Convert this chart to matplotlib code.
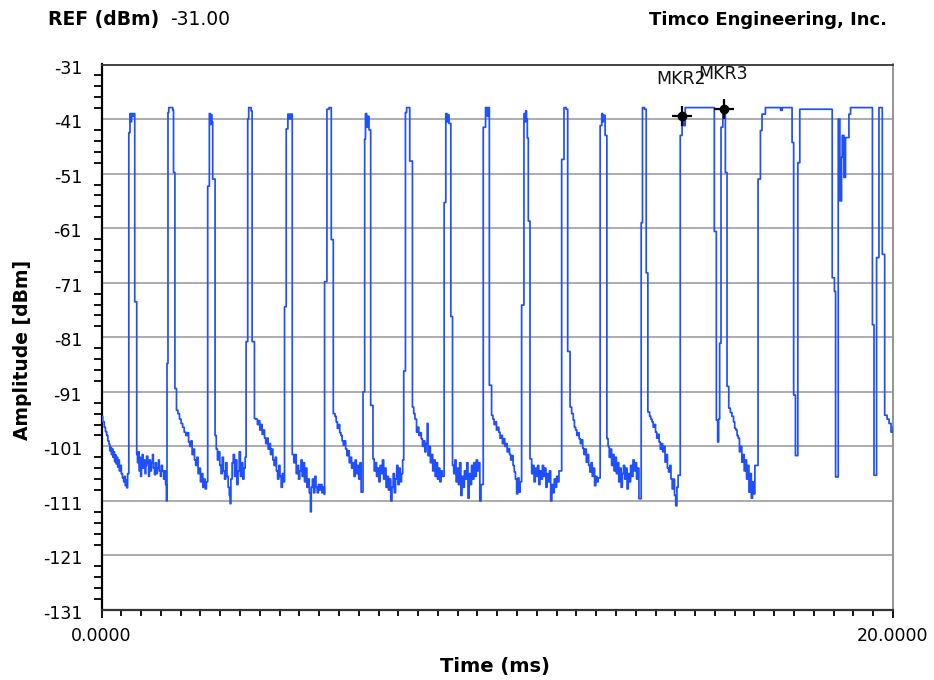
import matplotlib
matplotlib.use('Agg')
import matplotlib.pyplot as plt
from matplotlib.ticker import FixedLocator, FixedFormatter
from matplotlib.transforms import ScaledTranslation

# ---------------- data ----------------
trace_time_ms = [
    0.00, 0.03, 0.07, 0.10, 0.13, 0.16, 0.19, 0.21, 0.23, 0.25, 0.27, 0.29, 0.31, 0.33, 0.35, 0.37, 0.39, 0.41, 0.43, 0.45, 0.48, 0.50, 0.53, 0.56, 0.58, 0.60, 0.62, 0.64, 0.66,
    0.69, 0.72, 0.74, 0.76, 0.79, 0.82, 0.84, 0.89,
    0.91, 0.93, 0.95, 0.97, 0.99, 1.01, 1.03, 1.05, 1.08, 1.10, 1.12, 1.14, 1.17, 1.19, 1.21, 1.24, 1.26, 1.29, 1.31, 1.34, 1.36, 1.39, 1.41, 1.44, 1.46, 1.49, 1.51, 1.54, 1.57, 1.59, 1.62, 1.64,
    1.655, 1.68, 1.70, 1.80, 1.82, 1.855, 1.895,
    1.93, 1.97, 2.01, 2.05, 2.09, 2.13, 2.17, 2.20, 2.23, 2.26, 2.29, 2.32, 2.35, 2.38, 2.41, 2.44, 2.47, 2.50, 2.53, 2.56, 2.59, 2.62, 2.65,
    2.684, 2.725, 2.75, 2.77, 2.79, 2.81, 2.87,
    2.90, 2.93, 2.96, 2.99, 3.02, 3.05, 3.08, 3.11, 3.14, 3.17, 3.20, 3.23, 3.25, 3.27, 3.30, 3.33, 3.36, 3.39, 3.42, 3.45, 3.48, 3.51, 3.54, 3.57, 3.60, 3.63,
    3.654, 3.695, 3.72, 3.78, 3.806, 3.865,
    3.90, 3.94, 3.97, 4.00, 4.03, 4.06, 4.09, 4.12, 4.15, 4.18, 4.21, 4.24, 4.27, 4.30, 4.33, 4.36, 4.39, 4.42, 4.45, 4.48, 4.51, 4.54, 4.57, 4.60,
    4.625, 4.667, 4.71, 4.75, 4.78, 4.82,
    4.86, 4.89, 4.92, 4.95, 4.98, 5.01, 5.04, 5.07, 5.10, 5.13, 5.16, 5.19, 5.22, 5.25, 5.28, 5.30, 5.33, 5.36, 5.39, 5.42, 5.45, 5.48, 5.51, 5.54, 5.57, 5.60, 5.63,
    5.637, 5.696, 5.75, 5.806, 5.857,
    5.90, 5.93, 5.96, 5.99, 6.02, 6.05, 6.08, 6.11, 6.14, 6.17, 6.20, 6.23, 6.26, 6.29, 6.32, 6.35, 6.38, 6.41, 6.44, 6.47, 6.50, 6.53, 6.56,
    6.608, 6.65, 6.67, 6.70, 6.73, 6.76, 6.802, 6.86,
    6.89, 6.92, 6.95, 6.98, 7.01, 7.04, 7.07, 7.10, 7.13, 7.16, 7.19, 7.22, 7.25, 7.28, 7.31, 7.34, 7.37, 7.40, 7.43, 7.46, 7.49, 7.52, 7.55, 7.58, 7.61,
    7.637, 7.68, 7.71, 7.789, 7.857,
    7.89, 7.92, 7.96, 7.99, 8.02, 8.05, 8.08, 8.11, 8.14, 8.17, 8.20, 8.23, 8.25, 8.28, 8.31, 8.34, 8.37, 8.40, 8.43, 8.46, 8.49, 8.52, 8.55, 8.58, 8.61,
    8.658, 8.70, 8.73, 8.76, 8.78, 8.827, 8.87,
    8.90, 8.93, 8.96, 8.99, 9.02, 9.05, 9.08, 9.11, 9.14, 9.17, 9.20, 9.23, 9.26, 9.29, 9.32, 9.35, 9.38, 9.41, 9.44, 9.47, 9.50, 9.53, 9.56, 9.59,
    9.646, 9.705, 9.75, 9.77, 9.80, 9.857,
    9.89, 9.92, 9.95, 9.98, 10.01, 10.04, 10.07, 10.10, 10.13, 10.16, 10.19, 10.22, 10.25, 10.28, 10.31, 10.34, 10.37, 10.40, 10.43, 10.46, 10.49, 10.52, 10.55, 10.58,
    10.616, 10.675, 10.70, 10.72, 10.74, 10.76, 10.785, 10.827,
    10.87, 10.90, 10.93, 10.96, 10.99, 11.02, 11.05, 11.08, 11.11, 11.14, 11.17, 11.20, 11.23, 11.26, 11.29, 11.32, 11.35, 11.38, 11.41, 11.44, 11.47, 11.50, 11.53, 11.56,
    11.628, 11.687, 11.74, 11.78, 11.84,
    11.88, 11.92, 11.95, 11.98, 12.01, 12.04, 12.07, 12.10, 12.13, 12.16, 12.19, 12.22, 12.25, 12.28, 12.31, 12.34, 12.37, 12.40, 12.43, 12.46, 12.49, 12.52, 12.55,
    12.60, 12.64, 12.66, 12.68, 12.725, 12.77,
    12.80, 12.83, 12.86, 12.89, 12.92, 12.95, 12.98, 13.01, 13.04, 13.07, 13.10, 13.13, 13.16, 13.19, 13.22, 13.25, 13.28, 13.31, 13.34, 13.37, 13.40, 13.43, 13.46, 13.49, 13.52, 13.55, 13.58,
    13.637, 13.67, 13.72, 13.764, 13.806,
    13.85, 13.88, 13.91, 13.94, 13.97, 14.00, 14.03, 14.06, 14.09, 14.12, 14.15, 14.18, 14.21, 14.24, 14.27, 14.30, 14.33, 14.36, 14.39, 14.42, 14.45, 14.48, 14.51, 14.54, 14.57,
    14.624, 14.67, 14.71, 14.75, 15.485, 15.536, 15.57, 15.595, 15.62, 15.654, 15.70, 15.764, 15.806,
    15.85, 15.89, 15.93, 15.97, 16.00, 16.03, 16.06, 16.09, 16.12, 16.15, 16.18, 16.21, 16.24, 16.27, 16.30, 16.33, 16.36, 16.39, 16.42, 16.45, 16.48, 16.51,
    16.59, 16.65, 16.69, 16.776, 17.16, 17.20, 17.45, 17.49, 17.535, 17.595, 17.645, 18.464, 18.52, 18.55, 18.616, 18.658, 18.70, 18.717, 18.76, 18.80, 18.886, 18.928, 19.48, 19.52, 19.585, 19.645, 19.73, 19.79, 19.85, 19.90, 19.95, 20.0,
]
trace_amp_dbm = [
    -95.5, -96.5, -97.5, -98.3, -99.0, -100.0, -100.6, -101.8, -101.2, -102.5, -101.5, -103.0, -102.0, -103.8, -102.6, -104.2, -103.0, -104.8, -103.5, -105.5, -104.5, -106.0, -106.8, -107.5, -106.5, -108.2, -107.2, -108.6, -106.0,
    -43.5, -40.0, -41.5, -40.0, -40.5, -40.0, -74.5, -102.5,
    -104.0, -102.0, -105.5, -103.0, -106.5, -104.0, -102.5, -105.0, -103.5, -106.0, -104.5, -102.8, -104.0, -106.5, -103.5, -105.5, -104.0, -102.5, -105.0, -106.2, -104.0, -106.0, -105.0, -103.5, -105.5, -106.5, -104.5, -105.5, -107.0, -105.5, -108.0, -111.0,
    -85.8, -39.8, -38.9, -39.4, -50.8, -90.4, -94.4,
    -95.0, -96.0, -96.8, -97.5, -98.4, -99.0, -98.5, -100.2, -101.0, -100.0, -102.5, -101.5, -103.5, -104.5, -103.0, -106.0, -105.0, -107.5, -106.0, -108.5, -107.0, -108.8, -107.5,
    -53.3, -40.0, -42.0, -40.2, -41.5, -52.0, -99.0,
    -101.5, -103.5, -102.0, -104.5, -106.0, -103.0, -105.5, -107.0, -104.0, -106.5, -108.5, -110.0, -111.5, -107.0, -104.0, -102.5, -106.5, -103.5, -108.0, -105.5, -102.0, -106.5, -104.0, -107.0, -105.0, -103.0,
    -81.8, -41.0, -38.9, -39.5, -81.8, -95.9,
    -96.0, -97.0, -96.3, -98.0, -97.0, -98.8, -98.0, -99.5, -100.5, -99.5, -101.5, -100.5, -102.5, -101.5, -103.5, -104.5, -103.0, -105.5, -107.0, -104.5, -106.5, -108.5, -106.0, -107.5,
    -75.4, -42.8, -40.1, -41.0, -40.1, -102.5,
    -104.0, -102.5, -106.0, -104.5, -107.0, -105.5, -103.5, -106.5, -104.0, -107.5, -105.0, -108.5, -107.0, -109.5, -113.0, -108.5, -107.0, -109.5, -106.5, -108.5, -109.5, -108.0, -109.0, -108.0, -109.5, -108.5, -109.8,
    -70.8, -39.2, -38.9, -63.1, -95.0,
    -95.5, -96.5, -97.7, -97.0, -98.5, -99.0, -100.0, -100.8, -100.0, -101.5, -102.7, -101.8, -104.0, -103.0, -105.0, -104.0, -106.5, -103.5, -106.0, -104.5, -107.0, -104.0, -109.4,
    -91.0, -44.7, -40.0, -42.5, -40.5, -43.0, -93.5, -103.3,
    -105.5, -104.0, -106.5, -105.0, -107.5, -104.5, -106.0, -103.5, -107.0, -105.0, -108.5, -106.5, -109.0, -107.0, -111.0, -108.5, -106.0, -109.5, -107.0, -104.5, -108.0, -105.0, -107.5, -106.0, -103.5,
    -87.2, -39.8, -38.9, -48.7, -93.8,
    -95.0, -96.0, -98.4, -97.5, -99.0, -98.5, -99.6, -101.0, -100.0, -102.0, -100.5, -96.8, -102.7, -101.0, -104.0, -102.5, -105.5, -103.5, -106.5, -104.0, -107.0, -105.0, -107.5, -105.5, -106.5,
    -56.3, -40.0, -41.5, -40.2, -41.8, -77.2, -104.5,
    -106.0, -103.5, -107.5, -105.0, -108.0, -104.0, -110.0, -106.5, -108.5, -105.5, -107.0, -104.0, -110.5, -106.0, -108.0, -104.5, -107.0, -104.0, -106.5, -103.5, -105.5, -104.0, -111.0, -108.0,
    -42.5, -38.9, -40.5, -38.9, -89.8, -95.3,
    -96.0, -97.0, -96.5, -98.0, -97.5, -98.4, -99.5, -99.0, -100.5, -99.6, -101.0, -100.5, -102.0, -101.4, -102.5, -103.5, -102.7, -104.5, -105.7, -107.0, -109.7, -106.8, -109.4, -107.5,
    -75.1, -40.0, -41.5, -39.5, -41.0, -44.5, -59.7, -103.3,
    -106.0, -104.5, -107.5, -105.0, -106.5, -104.5, -108.0, -105.5, -107.0, -104.5, -106.5, -105.0, -108.5, -106.0, -107.5, -105.5, -111.0, -108.0, -109.5, -107.0, -108.5, -106.5, -107.5, -105.5,
    -48.4, -38.9, -39.2, -83.6, -93.8,
    -95.0, -96.2, -97.5, -98.0, -99.0, -98.5, -99.6, -100.5, -99.8, -101.4, -102.5, -101.5, -103.9, -102.5, -104.5, -105.7, -104.0, -106.5, -105.0, -108.2, -106.5, -107.5, -106.8,
    -42.2, -40.0, -41.5, -40.3, -44.0, -99.6,
    -101.0, -103.0, -101.5, -104.5, -102.5, -105.5, -103.0, -106.0, -104.0, -107.5, -105.0, -108.5, -106.0, -104.5, -107.0, -105.0, -108.8, -106.0, -107.5, -104.5, -106.5, -103.5, -105.5, -104.0, -107.0, -105.0, -110.6,
    -60.0, -38.9, -39.2, -69.2, -94.7,
    -95.5, -96.0, -96.5, -97.5, -97.0, -98.4, -99.5, -98.8, -100.2, -101.5, -100.5, -102.0, -101.0, -103.9, -102.5, -105.0, -105.7, -104.5, -107.0, -108.8, -107.0, -110.0, -111.9, -108.5, -106.3,
    -44.0, -40.4, -42.2, -38.9, -61.6, -96.2, -100.2, -96.0, -82.1, -42.5, -39.5, -50.8, -90.0,
    -94.0, -94.8, -95.5, -96.5, -97.7, -98.0, -99.0, -99.5, -102.0, -101.0, -103.9, -102.5, -105.5, -103.5, -107.0, -104.5, -109.4, -106.0, -110.5, -107.5, -109.7, -104.5,
    -52.0, -43.1, -40.1, -38.9, -39.4, -38.9, -45.3, -91.6, -102.7, -49.0, -39.2, -70.1, -72.6, -106.6, -41.0, -56.0, -48.0, -44.0, -51.7, -44.4, -40.1, -38.9, -78.7, -106.3, -66.4, -38.9, -65.8, -95.3, -96.0, -96.8, -98.4, -97.5,
]

marker_names = ['MKR2', 'MKR3']
marker_time_ms = [14.675, 15.73]
marker_amp_dbm = [-40.4, -39.2]

y_major_ticks = [-31, -41, -51, -61, -71, -81, -91, -101, -111, -121, -131]
y_minor_ticks = [v - d for v in y_major_ticks[:-1] for d in (2, 4, 6, 8)]
x_major_ticks = [0.0, 20.0]
x_tick_labels = ['0.0000', '20.0000']
x_minor_ticks = [i * 0.5 for i in range(1, 40)]
ref_level_text = '-31.00'

# ---------------- figure ----------------
W, H = 934, 680
fig = plt.figure(figsize=(W / 100, H / 100), dpi=100)
fig.patch.set_facecolor('white')
ax = fig.add_axes([101.5 / W, 70 / H, 791.5 / W, 545.5 / H])

ax.plot(trace_time_ms, trace_amp_dbm, drawstyle='steps-post',
        color='#1f4fff', lw=1.25, zorder=3)

offsets = [(-1.2, 22.8), (-0.6, 21.6)]
for name, t, a, off in zip(marker_names, marker_time_ms, marker_amp_dbm, offsets):
    ax.plot([t], [a], marker='+', ms=15, mew=1.6, color='black', zorder=5)
    ax.plot([t], [a], marker='o', ms=6, color='black', zorder=6)
    ax.annotate(name, (t, a), xytext=off, textcoords='offset points',
                ha='center', va='baseline', fontsize=12.5, color='#111111',
                zorder=7)

ax.set_xlim(0, 20)
ax.set_ylim(-131, -31)

ax.yaxis.set_major_locator(FixedLocator(y_major_ticks))
ax.yaxis.set_major_formatter(FixedFormatter([str(v) for v in y_major_ticks]))
ax.yaxis.set_minor_locator(FixedLocator(y_minor_ticks))
ax.xaxis.set_major_locator(FixedLocator(x_major_ticks))
ax.xaxis.set_major_formatter(FixedFormatter(x_tick_labels))
ax.xaxis.set_minor_locator(FixedLocator(x_minor_ticks))

ax.yaxis.grid(True, which='major', color='#a6a6a6', lw=1.3)
ax.set_axisbelow(True)

ax.tick_params(axis='y', which='major', length=0, pad=14, labelsize=12.5)
ax.tick_params(axis='y', which='minor', length=6, width=1.3, direction='out', color='black')
ax.tick_params(axis='x', which='major', length=6, width=1.3, pad=6, labelsize=12.5)
ax.tick_params(axis='x', which='minor', length=4, width=1.3, direction='out', color='black')

# labels sit a couple of pixels below their gridlines in the reference
shift = ScaledTranslation(0, -2 / 100, fig.dpi_scale_trans)
for lab in ax.get_yticklabels():
    lab.set_transform(lab.get_transform() + shift)

ax.spines['left'].set_color('black')
ax.spines['left'].set_linewidth(1.6)
ax.spines['bottom'].set_color('#333333')
ax.spines['bottom'].set_linewidth(1.6)
ax.spines['top'].set_color('#333333')
ax.spines['top'].set_linewidth(1.3)
ax.spines['right'].set_color('#8c8c8c')
ax.spines['right'].set_linewidth(1.3)

ax.set_ylabel('Amplitude [dBm]', fontsize=13.5, fontweight='bold')
ax.yaxis.set_label_coords(-0.088, 0.4775)
ax.set_xlabel('Time (ms)', fontsize=14, fontweight='bold')
ax.xaxis.set_label_coords(0.497, -0.086)

fig.text(48 / W, 1 - 25 / H, 'REF (dBm)', fontsize=13.5, fontweight='bold',
         ha='left', va='baseline')
fig.text(170 / W, 1 - 25 / H, ref_level_text, fontsize=13.5,
         ha='left', va='baseline')
fig.text(887 / W, 1 - 25 / H, 'Timco Engineering, Inc.', fontsize=13,
         fontweight='bold', ha='right', va='baseline')

fig.savefig('out.png', dpi=100)
